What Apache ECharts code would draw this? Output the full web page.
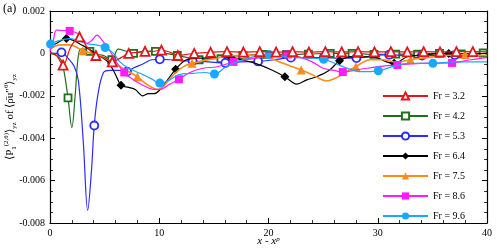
<!DOCTYPE html>
<html>
<head>
<meta charset="utf-8">
<script src="https://cdn.jsdelivr.net/npm/echarts@6/dist/echarts.min.js"></script>
<style>html,body{margin:0;padding:0;background:#fff}#c{width:497px;height:250px}</style>
</head>
<body>
<div id="c"></div>
<script>
// ---- data ----
const names = ['Fr = 3.2','Fr = 4.2','Fr = 5.3','Fr = 6.4','Fr = 7.5','Fr = 8.6','Fr = 9.6'];
const xTicks = [0,10,20,30,40];
const yTicks = [-0.008,-0.006,-0.004,-0.002,0,0.002];

const x32 = [0,0.6,1.2,1.9,2.7,3.4,4.2,5.0,5.7,6.5,7.2,8.0,8.7,9.4,10.2,11.0,11.7,12.5,13.2,14.7,16.2,17.7,19.2,20.7,22.2,23.7,25.2,26.7,28.2,29.7,31.2,32.7,34.2,35.7,37.2,38.7,40];
const y32 = [0.00005,-0.0001,-0.00055,0.0003,0.00078,0.0003,-0.0001,-0.0002,-0.0004,-0.0002,0,0.00005,0.0001,0.0001,0.00015,0.00005,-0.0001,-0.00005,0,0.00005,0.00008,0.00006,0.00008,0.00006,0.00008,0.00006,0.00008,0.00007,0.00008,0.00007,0.00008,0.00007,0.00008,0.00007,0.00008,0.00008,0.00007];
const m32 = [1.2,2.7,4.2,5.7,7.2,8.7,10.2,11.7,13.2,14.7,16.2,17.7,19.2,20.7,22.2,23.7,25.2,26.7,28.2,29.7,31.2,32.7,34.2,35.7,37.2,38.7];

const x42 = [0,0.6,1.0,1.3,1.65,2.0,2.3,2.55,2.8,3.2,3.65,4.3,4.9,5.65,6.25,7.0,7.65,8.6,9.65,10.6,11.65,12.6,13.65,14.6,15.65,16.6,17.65,19.65,21.65,23.65,25.65,27.65,29.65,31.65,33.65,35.65,37.65,39.65,40];
const y42 = [0,-0.0001,-0.0003,-0.0009,-0.0021,-0.0035,-0.002,-0.0003,0.0002,0.0002,0.0001,-0.00005,-0.0001,-0.0003,0.0002,0.0001,0,0.0001,0.0001,0,-0.0001,-0.0002,-0.0003,-0.00025,-0.00025,-0.00015,-0.0001,-0.00005,-0.00005,-0.00003,0,0,-0.00005,-0.00003,-0.00003,0,-0.00002,0.00002,0];
const m42 = [1.65,3.65,5.65,7.65,9.65,11.65,13.65,15.65,17.65,19.65,21.65,23.65,25.65,27.65,29.65,31.65,33.65,35.65,37.65,39.65];

const x53 = [0,0.5,1.05,1.6,2.2,2.6,3.05,3.45,3.8,4.05,4.4,4.9,5.5,6.3,7.05,7.6,8.5,9.3,10.05,11.0,12.0,13.05,14.5,16.05,17.5,19.05,20.5,22.05,23.5,25.05,26.5,28.05,29.5,31.05,32.5,34.05,35.5,37.05,38.5,40];
const y53 = [0,0,0.00005,-0.0002,-0.0006,-0.0013,-0.0042,-0.0074,-0.0055,-0.0034,-0.0019,-0.0009,-0.0008,-0.0008,-0.00086,-0.0007,-0.0005,-0.0003,-0.00028,-0.0003,-0.00035,-0.00036,-0.0004,-0.00045,-0.0004,-0.00038,-0.0003,-0.0002,-0.0002,-0.0002,-0.00022,-0.00022,-0.00012,-0.00006,-0.0001,-0.0001,-0.0001,-0.00008,-0.0001,-0.0001];
const m53 = [1.05,4.05,7.05,10.05,13.05,16.05,19.05,22.05,25.05,28.05,31.05,34.05,37.05];

const x64 = [0,0.7,1.5,2.2,2.9,3.6,4.5,5.3,5.9,6.5,7.2,7.8,8.5,9.0,9.5,10.1,10.7,11.5,12.5,13.7,15.0,16.5,17.5,18.8,20.3,21.5,22.6,23.5,24.4,25.6,26.5,27.5,29.6,30.8,31.5,32.7,33.9,36.5,38.2,40];
const y64 = [0.0003,0.0005,0.0007,0.0006,0.0004,0.0002,-0.0001,-0.0004,-0.0009,-0.0015,-0.0016,-0.0017,-0.002,-0.0019,-0.0019,-0.0017,-0.0013,-0.00075,-0.0003,-0.00023,-0.0002,-0.00016,-0.0003,-0.00047,-0.00078,-0.0011,-0.00145,-0.00125,-0.0011,-0.00078,-0.00035,-0.00016,-0.00016,-0.0004,-0.00047,-0.00016,-0.00008,0,-0.00003,0];
const m64 = [1.5,6.5,11.5,16.5,21.5,26.5,31.5,36.5];

const x75 = [0,0.5,1.0,1.8,2.4,3.0,3.8,4.5,5.3,6.0,7.0,8.0,8.7,9.3,9.8,10.3,10.8,11.5,12.3,13.0,14,15,16,17,18,19,20,21,22,23,24,24.7,25.3,26,26.7,27.3,28,28.7,29.3,30.5,31.5,32.3,33,34.5,36,37,38,39,40];
const y75 = [0.0002,0.00035,0.0004,0.0004,0.0003,0.00012,0,-0.0001,-0.0003,-0.0005,-0.0008,-0.0011,-0.0014,-0.0016,-0.0017,-0.0016,-0.0013,-0.0009,-0.0006,-0.00047,-0.00035,-0.00025,-0.00015,-0.0001,-0.00008,-0.0001,-0.0002,-0.0004,-0.0006,-0.00078,-0.001,-0.0012,-0.0013,-0.0012,-0.001,-0.0008,-0.00063,-0.0004,-0.0003,-0.0003,-0.0004,-0.00038,-0.0003,-0.0002,-0.0001,-0.00008,-0.00005,-0.0001,-0.0001];
const m75 = [3,8,13,18,23,28,33,38];

const x86 = [0,0.3,0.6,1.2,1.8,2.5,3.0,3.4,3.8,4.3,4.8,5.5,6.2,6.8,7.5,8.5,9.5,10.1,10.8,11.8,12.8,14,15.3,16.8,18,19,20,21,21.8,23,24,25,26,26.8,27.8,29,30.5,31.8,33.5,35,36.8,38.5,40];
const y86 = [0.0001,0.0006,0.0011,0.00108,0.00106,0.00095,0.0007,0.00047,0.0006,0.00086,0.0006,0.0001,-0.0005,-0.0009,-0.0012,-0.0015,-0.0017,-0.0017,-0.0015,-0.00122,-0.0009,-0.0007,-0.00063,-0.0004,-0.0003,-0.0002,-0.00015,-0.0001,-0.00005,-0.0002,-0.0004,-0.0007,-0.0008,-0.00088,-0.0008,-0.0007,-0.0006,-0.00055,-0.00048,-0.00046,-0.00045,-0.0003,-0.0002];
const m86 = [1.8,6.8,11.8,16.8,21.8,26.8,31.8,36.8];

const x96 = [0.05,0.8,1.8,2.6,3.4,4.2,5.05,5.8,6.4,7.2,8.5,9.3,10.05,10.8,11.8,13.1,14.2,15.05,16.2,17.4,18.7,20.05,21.5,23,25.05,26.2,27.2,28.4,30.05,31.5,32.7,35.05,37,38.5,40];
const y96 = [0.00044,0.0006,0.0007,0.0006,0.00045,0.0004,0.00028,0,-0.0004,-0.0007,-0.001,-0.0012,-0.0014,-0.0013,-0.001,-0.00094,-0.0009,-0.00097,-0.0006,-0.00035,-0.00015,-0.00005,-0.00015,-0.0002,-0.00028,-0.0005,-0.0007,-0.00086,-0.00082,-0.0006,-0.00047,-0.00047,-0.0004,-0.0004,-0.0004];
const m96 = [0.05,5.05,10.05,15.05,20.05,25.05,30.05,35.05];

// ---- styles ----
const FONT = 'Liberation Serif';
const styles = [
  {c:'#e3161c', sym:'triangle', size:9, open:true},
  {c:'#1f6f1f', sym:'rect', size:7, open:true},
  {c:'#2b2bff', sym:'circle', size:8, open:true},
  {c:'#000000', sym:'diamond', size:9, open:false},
  {c:'#ff8a1c', sym:'triangle', size:9, open:false},
  {c:'#ff1aff', sym:'rect', size:8, open:false},
  {c:'#1aa8ff', sym:'circle', size:9, open:false}
];
const sets = [[x32,y32,m32],[x42,y42,m42],[x53,y53,m53],[x64,y64,m64],[x75,y75,m75],[x86,y86,m86],[x96,y96,m96]];

const series = sets.map(([xs, ys, ms], k) => {
  const st = styles[k];
  return {
    name: names[k], type: 'line', smooth: 0.35,
    xAxisIndex: 0, yAxisIndex: 0,
    showSymbol: true, showAllSymbol: true,
    symbol: st.sym, symbolSize: st.size,
    lineStyle: {color: st.c, width: k === 4 ? 1.6 : 1.2},
    itemStyle: st.open ? {color: '#fff', borderColor: st.c, borderWidth: 1.8}
                       : {color: st.c, borderColor: st.c, borderWidth: 0},
    emphasis: {disabled: true},
    z: k === 0 ? 10 : 2 + k * 0.1,
    data: xs.map((x, i) => {
      const d = {value: [x, ys[i]]};
      if (!ms.includes(x)) d.symbol = 'none';
      return d;
    })
  };
});

const axisCommon = {
  axisLine: {show: true, onZero: false, lineStyle: {color: '#000', width: 1.2}},
  axisTick: {show: true, inside: true, length: 5, lineStyle: {color: '#000', width: 1}},
  minorTick: {show: true, length: 3, lineStyle: {color: '#000', width: 0.8}},
  splitLine: {show: false}
};

const chart = echarts.init(document.getElementById('c'), null, {renderer: 'canvas'});
chart.setOption({
  animation: false,
  backgroundColor: '#fff',
  grid: {left: 50, right: 10, top: 11, bottom: 27, containLabel: false, outerBoundsMode: 'none'},
  legend: {
    data: names, orient: 'vertical', left: 377, top: 84,
    itemWidth: 45, itemHeight: 9, itemGap: 6,
    textStyle: {fontFamily: FONT, fontSize: 10, color: '#000', lineHeight: 14},
    selectedMode: false
  },
  xAxis: [
    Object.assign({}, axisCommon, {
      type: 'value', min: xTicks[0], max: xTicks[xTicks.length-1], interval: 10, position: 'bottom',
      minorTick: Object.assign({}, axisCommon.minorTick, {splitNumber: 5}),
      axisLabel: {fontFamily: FONT, fontSize: 10, color: '#000', margin: 5},
      name: '{i|x} - {i|x}{s|p}', nameLocation: 'middle', nameGap: 13, nameMoveOverlap: false,
      nameTextStyle: {fontFamily: FONT, fontSize: 11, color: '#000',
        rich: {i: {fontFamily: FONT, fontStyle: 'italic', fontSize: 11, color: '#000'},
               s: {fontFamily: FONT, fontStyle: 'italic', fontSize: 7, color: '#000', verticalAlign: 'top'}}}
    }),
    Object.assign({}, axisCommon, {
      type: 'value', min: 0, max: 40, interval: 10, position: 'top',
      minorTick: Object.assign({}, axisCommon.minorTick, {splitNumber: 5}),
      axisLabel: {show: false}
    })
  ],
  yAxis: [
    Object.assign({}, axisCommon, {
      type: 'value', min: yTicks[0], max: yTicks[yTicks.length-1], interval: 0.002, position: 'left',
      minorTick: Object.assign({}, axisCommon.minorTick, {splitNumber: 4}),
      axisLabel: {fontFamily: FONT, fontSize: 10, color: '#000', margin: 5,
        formatter: v => Math.abs(v) < 1e-12 ? '0' : v.toFixed(3)},
      name: '{t|⟨P}{s|1}{p|(2,θ)}{t|⟩}{s|yz}{t| of ⟨ρ̄u″}{p|θ}{t|⟩}{s|yz}',
      nameLocation: 'middle', nameGap: 32, nameMoveOverlap: false,
      nameTextStyle: {fontFamily: FONT, fontSize: 11, color: '#000',
        rich: {t: {fontFamily: FONT, fontSize: 11, color: '#000', lineHeight: 15},
               s: {fontFamily: FONT, fontSize: 7, color: '#000', verticalAlign: 'bottom', lineHeight: 15},
               p: {fontFamily: FONT, fontSize: 7, color: '#000', verticalAlign: 'top', lineHeight: 15}}}
    }),
    Object.assign({}, axisCommon, {
      type: 'value', min: -0.008, max: 0.002, interval: 0.002, position: 'right',
      minorTick: Object.assign({}, axisCommon.minorTick, {splitNumber: 4}),
      axisLabel: {show: false}
    })
  ],
  graphic: [{type: 'text', left: 3, top: 3, style: {text: '(a)', fontFamily: FONT, fontSize: 12, fill: '#000'}}],
  series: series
});
</script>
</body>
</html>
